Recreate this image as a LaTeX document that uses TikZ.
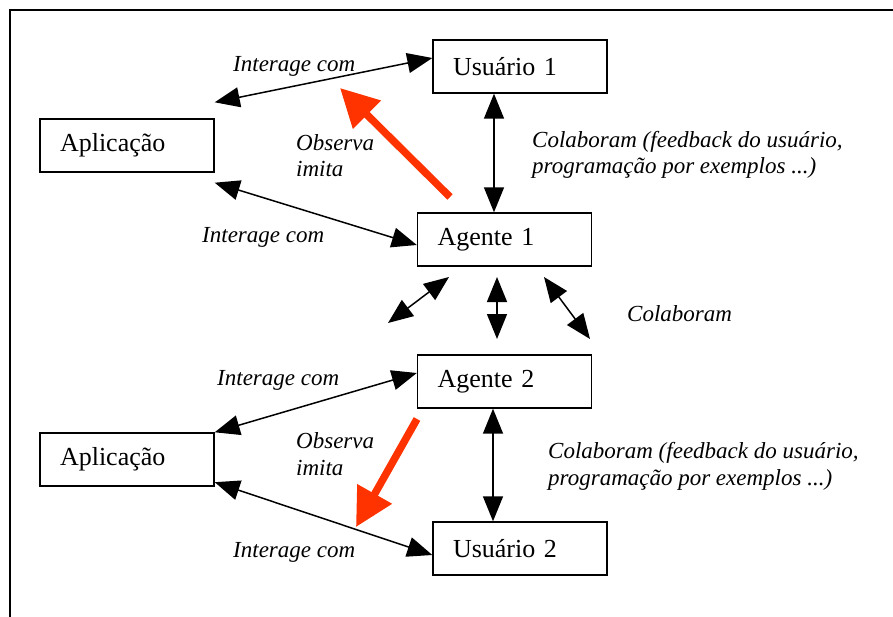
\documentclass[tikz,border=0pt]{standalone}
\usepackage{fontspec}
\setmainfont{Liberation Serif}
\usetikzlibrary{arrows.meta}
\definecolor{obsred}{RGB}{255,51,0}
\begin{document}
\begin{tikzpicture}[x=1pt,y=-1pt,
  box/.style={draw,line width=1.4pt,minimum width=174pt,minimum height=53pt,
    inner xsep=20pt,text width=134pt,align=left,font=\fontsize{26}{30}\selectfont},
  lbl/.style={anchor=base west,align=left,inner sep=0pt,font=\fontsize{23}{26.5}\selectfont\itshape},
  link/.style={line width=1.5pt,{Triangle[length=25pt,width=20pt]}-{Triangle[length=25pt,width=20pt]}},
  obs/.style={draw=obsred,line width=7.5pt,-{Triangle[length=38pt,width=38pt]}}]
\useasboundingbox (0,0) rectangle (893,617);
\draw[line width=1.4pt] (10,617) -- (10,10) -- (893,10);
% boxes
\node[box] (u1) at (520,66.5) {Usuário 1};
\node[box] (a1) at (127,145.5) {Aplicação};
\node[box] (g1) at (504.5,239.5) {Agente 1};
\node[box] (g2) at (504.5,381.5) {Agente 2};
\node[box] (a2) at (127,459.5) {Aplicação};
\node[box] (u2) at (520,548.5) {Usuário 2};
% free ends
\coordinate (c1a) at (388,323); \coordinate (c1b) at (449,277);
\coordinate (c2a) at (497,277); \coordinate (c2b) at (497,339);
\coordinate (c3a) at (544,277); \coordinate (c3b) at (590,339);
\coordinate (r1s) at (450,197); \coordinate (r1e) at (340,88);
\coordinate (r2s) at (417,419); \coordinate (r2e) at (356,527);
% connectors
\draw[link] ([yshift=8.5pt]u1.west) -- ([yshift=16pt]a1.north east);
\draw[link] ([yshift=-10pt]a1.south east) -- ([yshift=-5.5pt]g1.west);
\draw[link] ([xshift=-26pt]u1.south) -- ([xshift=-10.5pt]g1.north);
\draw[link] (c1a) -- (c1b);
\draw[link] (c2a) -- (c2b);
\draw[link] (c3a) -- (c3b);
\draw[link] ([yshift=8.5pt]g2.west) -- (a2.north east);
\draw[link] ([yshift=4.5pt]a2.south east) -- ([yshift=-6.5pt]u2.west);
\draw[link] ([xshift=-11.5pt]g2.south) -- ([xshift=-27pt]u2.north);
\draw[obs] (r1s) -- (r1e);
\draw[obs] (r2s) -- (r2e);
% labels (base = baseline of last line)
\node[lbl] (t1) at (233,72) {Interage com};
\node[lbl] (o1) at (296,177) {Observa\\imita};
\node[lbl] (k1) at (532,174) {Colaboram (feedback do usuário,\\programação por exemplos ...)};
\node[lbl] (t2) at (202,243) {Interage com};
\node[lbl] (k2) at (627,321) {Colaboram};
\node[lbl] (t3) at (217,385) {Interage com};
\node[lbl] (o2) at (296,475) {Observa\\imita};
\node[lbl] (k3) at (548,485) {Colaboram (feedback do usuário,\\programação por exemplos ...)};
\node[lbl] (t4) at (233,557) {Interage com};
\end{tikzpicture}
\end{document}
